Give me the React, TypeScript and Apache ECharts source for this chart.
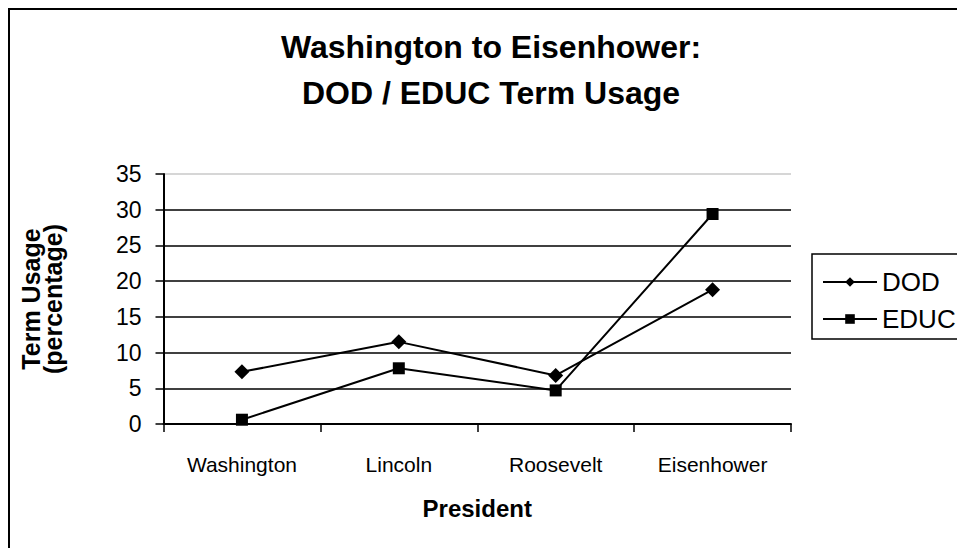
import React, { useEffect, useRef } from "react";
import * as echarts from "echarts";

const presidents = ["Washington", "Lincoln", "Roosevelt", "Eisenhower"];
const dodValues = [7.3, 11.5, 6.8, 18.8];
const educValues = [0.6, 7.8, 4.7, 29.4];
const yMin = 0;
const yMax = 35;
const yInterval = 5;
const titleLines = ["Washington to Eisenhower:", "DOD / EDUC Term Usage"];
const xAxisTitle = "President";
const yAxisTitle = "Term Usage\n(percentage)";

const SANS = "'Liberation Sans', Arial, sans-serif";

export default function App() {
  const ref = useRef<HTMLDivElement>(null);
  useEffect(() => {
    if (!ref.current) return;
    const chart = echarts.init(ref.current, null, { renderer: "svg" });
    const gridColors = [0, 1, 2, 3, 4, 5, 6, 7].map((i) => (i === 7 ? "#c8c8c8" : "#000"));
    chart.setOption({
      animation: false,
      backgroundColor: "#fff",
      title: {
        text: titleLines.join("\n"),
        left: "center",
        top: 14,
        padding: 0,
        textStyle: {
          fontFamily: SANS,
          fontWeight: "bold",
          fontSize: 32,
          lineHeight: 46,
          color: "#000",
        },
      },
      legend: {
        orient: "vertical",
        left: 802,
        top: 244,
        padding: [15, 10, 7, 10],
        itemWidth: 54,
        itemHeight: 12,
        itemGap: 11,
        borderColor: "#000",
        borderWidth: 1.5,
        borderRadius: 0,
        textStyle: { fontFamily: SANS, fontSize: 26, color: "#000" },
        data: ["DOD", "EDUC"],
      },
      grid: { left: 153, top: 164, width: 628, height: 250, containLabel: false },
      xAxis: {
        type: "category",
        data: presidents,
        boundaryGap: true,
        name: xAxisTitle,
        nameLocation: "middle",
        nameGap: 72,
        nameTextStyle: { fontFamily: SANS, fontWeight: "bold", fontSize: 24, color: "#000" },
        axisLine: { lineStyle: { color: "#000", width: 2 } },
        axisTick: { show: true, length: 8, lineStyle: { color: "#000", width: 1.5 } },
        axisLabel: { interval: 0, margin: 30, fontFamily: SANS, fontSize: 21, color: "#000" },
        splitLine: { show: false },
      },
      yAxis: {
        type: "value",
        min: yMin,
        max: yMax,
        interval: yInterval,
        name: yAxisTitle,
        nameLocation: "middle",
        nameRotate: 90,
        nameGap: 100,
        nameTextStyle: { fontFamily: SANS, fontWeight: "bold", fontSize: 25, lineHeight: 22, color: "#000" },
        axisLine: { show: true, lineStyle: { color: "#000", width: 2 } },
        axisTick: { show: true, length: 8, lineStyle: { color: "#000", width: 1.5 } },
        axisLabel: { margin: 22, fontFamily: SANS, fontSize: 23, color: "#000" },
        splitLine: { show: true, lineStyle: { color: gridColors, width: 1.5 } },
      },
      series: [
        {
          name: "DOD",
          type: "line",
          data: dodValues,
          symbol: "diamond",
          symbolSize: 15,
          color: "#000",
          itemStyle: { color: "#000" },
          lineStyle: { color: "#000", width: 2 },
        },
        {
          name: "EDUC",
          type: "line",
          data: educValues,
          symbol: "rect",
          symbolSize: 12,
          color: "#000",
          itemStyle: { color: "#000" },
          lineStyle: { color: "#000", width: 2 },
        },
      ],
    });
    return () => chart.dispose();
  }, []);

  return (
    <div
      style={{
        position: "fixed",
        left: 8,
        top: 8,
        width: 949,
        height: 540,
        boxSizing: "border-box",
        borderLeft: "2px solid #000",
        borderTop: "2px solid #000",
        overflow: "hidden",
        background: "#fff",
      }}
    >
      <div ref={ref} style={{ width: 962, height: 560 }} />
    </div>
  );
}
